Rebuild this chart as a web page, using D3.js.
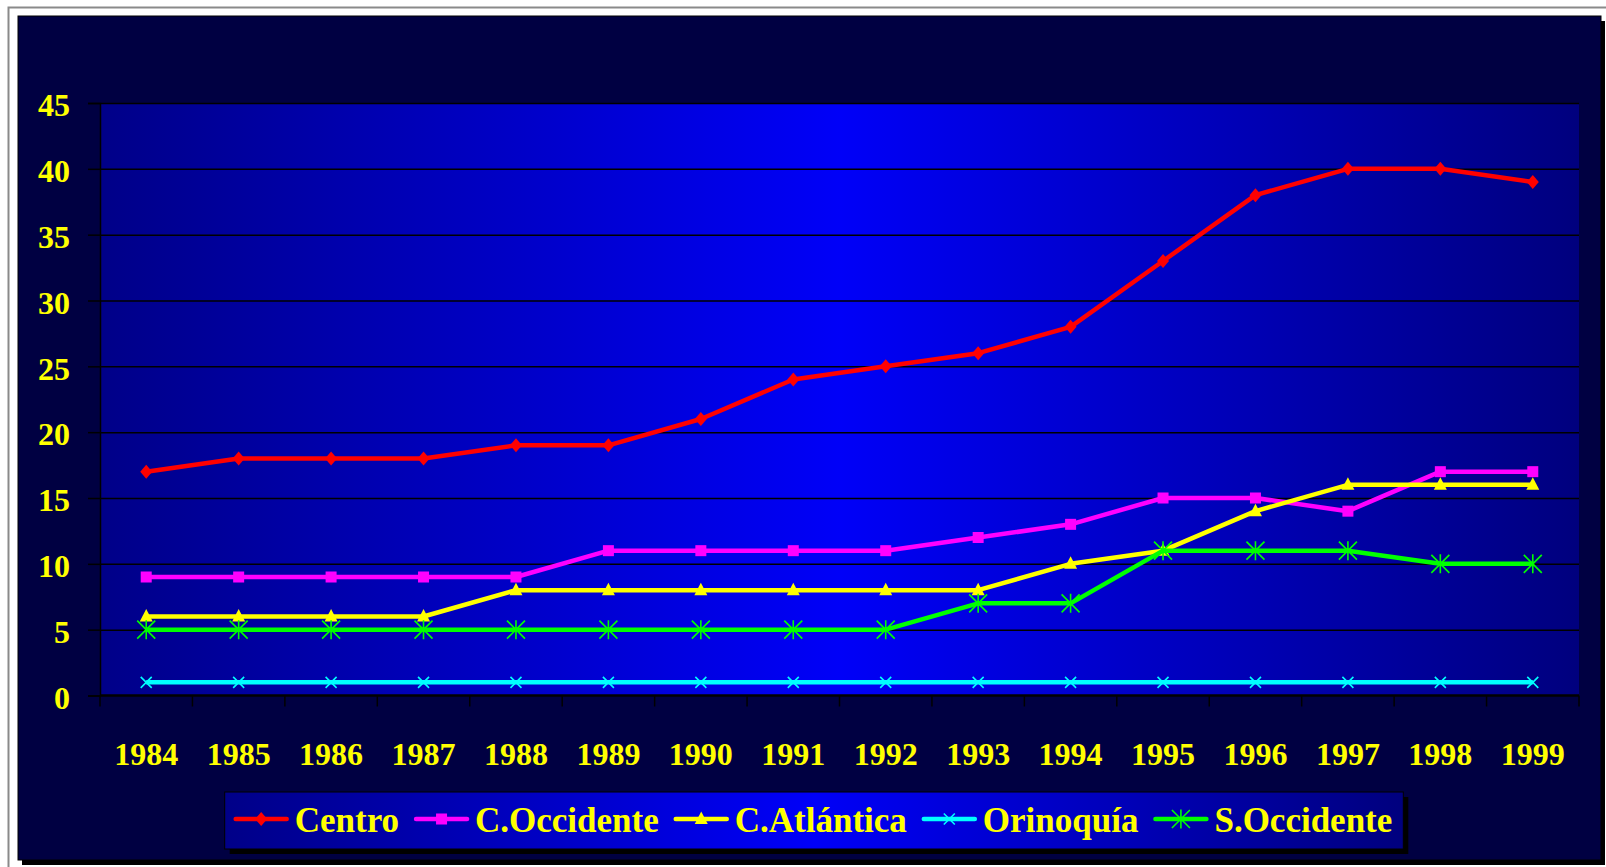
<!DOCTYPE html>
<html>
<head>
<meta charset="utf-8">
<script src="https://cdn.jsdelivr.net/npm/d3@7"></script>
<style>
  body { margin: 0; background: #ffffff; overflow: hidden; }
  svg { display: block; }
  .axisText { font-family: "Liberation Serif", "Times New Roman", serif; font-weight: bold; fill: #ffff00; }
</style>
</head>
<body>
<div id="chart"></div>
<script>
// Data
var years = ["1984", "1985", "1986", "1987", "1988", "1989", "1990", "1991",
             "1992", "1993", "1994", "1995", "1996", "1997", "1998", "1999"];
var centro      = [17, 18, 18, 18, 19, 19, 21, 24, 25, 26, 28, 33, 38, 40, 40, 39];
var cOccidente  = [9, 9, 9, 9, 9, 11, 11, 11, 11, 12, 13, 15, 15, 14, 17, 17];
var cAtlantica  = [6, 6, 6, 6, 8, 8, 8, 8, 8, 8, 10, 11, 14, 16, 16, 16];
var orinoquia   = [1, 1, 1, 1, 1, 1, 1, 1, 1, 1, 1, 1, 1, 1, 1, 1];
var sOccidente  = [5, 5, 5, 5, 5, 5, 5, 5, 5, 7, 7, 11, 11, 11, 10, 10];
var yTicks = [0, 5, 10, 15, 20, 25, 30, 35, 40, 45];

var seriesNames = ["Centro", "C.Occidente", "C.Atlántica", "Orinoquía", "S.Occidente"];
var seriesValues = [centro, cOccidente, cAtlantica, orinoquia, sOccidente];
var seriesColors = ["#ff0000", "#ff00ff", "#ffff00", "#00ffff", "#00ff00"];
var seriesMarkers = ["diamond", "square", "triangle", "x", "star"];

var svgWidth = 1606;
var svgHeight = 867;

// plot area in page pixels
var margin = { top: 103, left: 100 };
var width = 1479;
var height = 592.5;

var svg = d3.select("#chart")
  .append("svg")
  .attr("width", svgWidth)
  .attr("height", svgHeight);

var defs = svg.append("defs");
var grad = defs.append("linearGradient")
  .attr("id", "blueGrad")
  .attr("x1", "0").attr("x2", "1").attr("y1", "0").attr("y2", "0");
grad.append("stop").attr("offset", "0").attr("stop-color", "#000088");
grad.append("stop").attr("offset", "0.5").attr("stop-color", "#0000f8");
grad.append("stop").attr("offset", "1").attr("stop-color", "#00007e");

// page frame and dark panel with shadow
svg.append("rect")
  .attr("x", 8.5).attr("y", 7.5)
  .attr("width", 1700).attr("height", 900)
  .attr("fill", "#ffffff")
  .attr("stroke", "#8a8a8a")
  .attr("stroke-width", 2);

svg.append("rect")
  .attr("x", 22).attr("y", 21)
  .attr("width", 1583).attr("height", 844)
  .attr("fill", "#000000");

svg.append("rect")
  .attr("x", 18).attr("y", 16)
  .attr("width", 1583).attr("height", 844)
  .attr("fill", "#000042")
  .attr("stroke", "#000000")
  .attr("stroke-width", 1);

var chartGroup = svg.append("g")
  .attr("transform", `translate(${margin.left}, ${margin.top})`);

// scales
var xBandScale = d3.scaleBand()
  .domain(years)
  .range([0, width]);

var yLinearScale = d3.scaleLinear()
  .domain([0, 45])
  .range([height, 0]);

var xCenter = d => xBandScale(d) + xBandScale.bandwidth() / 2;

// plot background
chartGroup.append("rect")
  .attr("width", width)
  .attr("height", height)
  .attr("fill", "url(#blueGrad)");

// gridlines
chartGroup.append("g")
  .call(d3.axisLeft(yLinearScale).tickValues(yTicks.slice(1)).tickSize(-width).tickFormat(""))
  .call(g => g.select(".domain").remove())
  .call(g => g.selectAll("line").attr("stroke", "#000000").attr("stroke-width", 1.5));

// y axis
chartGroup.append("g")
  .call(d3.axisLeft(yLinearScale).tickValues(yTicks).tickSize(12).tickPadding(18))
  .call(g => g.select(".domain").attr("stroke", "#000000").attr("stroke-width", 1.5))
  .call(g => g.selectAll("line").attr("stroke", "#000000").attr("stroke-width", 1.5))
  .call(g => g.selectAll("text")
    .attr("class", "axisText")
    .attr("dy", "0.4em")
    .style("font-size", "32px"));

// x axis labels
chartGroup.append("g")
  .attr("transform", `translate(0, ${height})`)
  .call(d3.axisBottom(xBandScale).tickSize(0).tickPadding(47))
  .call(g => g.select(".domain").remove())
  .call(g => g.selectAll("text")
    .attr("class", "axisText")
    .style("font-size", "32px"));

// x axis line and boundary ticks
var xAxisGroup = chartGroup.append("g")
  .attr("transform", `translate(0, ${height})`);
xAxisGroup.append("line")
  .attr("x1", 0).attr("x2", width)
  .attr("stroke", "#000000")
  .attr("stroke-width", 2.5);
xAxisGroup.selectAll("line.tick")
  .data(years.map(d => xBandScale(d)).concat([width]))
  .enter()
  .append("line")
  .attr("class", "tick")
  .attr("x1", d => d).attr("x2", d => d)
  .attr("y1", 0).attr("y2", 11)
  .attr("stroke", "#000000")
  .attr("stroke-width", 1.5);

// marker drawing
function drawMarker(sel, type, color) {
  if (type === "diamond") {
    sel.append("path").attr("d", "M0,-7L6,0L0,7L-6,0Z").attr("fill", color);
  } else if (type === "square") {
    sel.append("rect").attr("x", -5.5).attr("y", -5.5).attr("width", 11).attr("height", 11).attr("fill", color);
  } else if (type === "triangle") {
    sel.append("path").attr("d", "M0,-7.5L6.5,5L-6.5,5Z").attr("fill", color);
  } else if (type === "x") {
    sel.append("path").attr("d", "M-5.5,-5.5L5.5,5.5M-5.5,5.5L5.5,-5.5")
      .attr("stroke", color).attr("stroke-width", 1.6).attr("fill", "none");
  } else if (type === "star") {
    sel.append("path").attr("d", "M0,-9.5L0,9.5M-9,-9L9,9M-9,9L9,-9")
      .attr("stroke", color).attr("stroke-width", 1.6).attr("fill", "none");
  }
}

var line = d3.line()
  .x((d, i) => xCenter(years[i]))
  .y(d => yLinearScale(d));

seriesValues.forEach(function(values, s) {
  var g = chartGroup.append("g");
  g.append("path")
    .datum(values)
    .attr("d", line)
    .attr("fill", "none")
    .attr("stroke", seriesColors[s])
    .attr("stroke-width", 4.5)
    .attr("stroke-linejoin", "round");
  g.selectAll("g.marker")
    .data(values)
    .enter()
    .append("g")
    .attr("class", "marker")
    .attr("transform", (d, i) => `translate(${xCenter(years[i])}, ${yLinearScale(d)})`)
    .each(function() { drawMarker(d3.select(this), seriesMarkers[s], seriesColors[s]); });
});

// legend
var legendGroup = svg.append("g");
var legendShadow = legendGroup.append("rect").attr("fill", "#000000");
var legendBox = legendGroup.append("rect")
  .attr("fill", "url(#blueGrad)")
  .attr("stroke", "#000000")
  .attr("stroke-width", 1);
var itemsGroup = legendGroup.append("g");

var cursor = 0;
seriesNames.forEach(function(name, s) {
  var item = itemsGroup.append("g").attr("transform", `translate(${cursor}, 0)`);
  item.append("line")
    .attr("x1", 0).attr("x2", 51)
    .attr("stroke", seriesColors[s])
    .attr("stroke-width", 4.5)
    .attr("stroke-linecap", "round");
  var m = item.append("g").attr("transform", "translate(25.5, 0)");
  drawMarker(m, seriesMarkers[s], seriesColors[s]);
  var t = item.append("text")
    .attr("class", "axisText")
    .attr("x", 59)
    .attr("y", 13)
    .style("font-size", "35px")
    .text(name);
  cursor += 59 + t.node().getComputedTextLength() + 17;
});
var itemsWidth = cursor - 17;
var boxWidth = itemsWidth + 22;
var boxX = 814 - boxWidth / 2;
var boxY = 792;
var boxH = 57;
legendShadow.attr("x", boxX + 5).attr("y", boxY + 5).attr("width", boxWidth).attr("height", boxH);
legendBox.attr("x", boxX).attr("y", boxY).attr("width", boxWidth).attr("height", boxH);
itemsGroup.attr("transform", `translate(${boxX + 11}, ${boxY + 27})`);
</script>
</body>
</html>
